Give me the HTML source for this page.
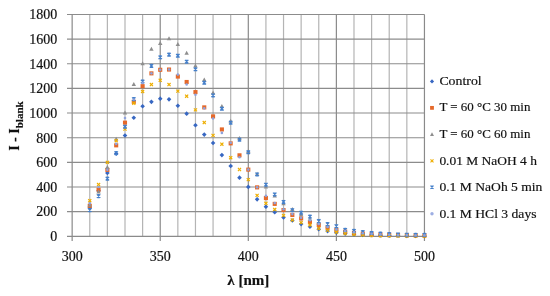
<!DOCTYPE html>
<html><head><meta charset="utf-8"><title>Fluorescence spectra</title>
<style>
html,body{margin:0;padding:0;background:#fff;}
body{width:550px;height:296px;overflow:hidden;}
svg{display:block;will-change:transform;}
text{font-family:"Liberation Serif",serif;fill:#111;stroke:#111;stroke-width:0.18px;}
.ax{font-size:14px;}
.ti{font-size:14px;font-weight:bold;}
.lg{font-size:13.3px;}
</style></head>
<body>
<svg width="550" height="296" viewBox="0 0 550 296">
<rect width="550" height="296" fill="#fff"/>
<line x1="89.77" y1="14.45" x2="89.77" y2="236.30" stroke="#B4B4B4" stroke-width="1.2"/>
<line x1="107.38" y1="14.45" x2="107.38" y2="236.30" stroke="#B4B4B4" stroke-width="1.2"/>
<line x1="125.00" y1="14.45" x2="125.00" y2="236.30" stroke="#B4B4B4" stroke-width="1.2"/>
<line x1="142.61" y1="14.45" x2="142.61" y2="236.30" stroke="#B4B4B4" stroke-width="1.2"/>
<line x1="177.84" y1="14.45" x2="177.84" y2="236.30" stroke="#B4B4B4" stroke-width="1.2"/>
<line x1="195.46" y1="14.45" x2="195.46" y2="236.30" stroke="#B4B4B4" stroke-width="1.2"/>
<line x1="213.07" y1="14.45" x2="213.07" y2="236.30" stroke="#B4B4B4" stroke-width="1.2"/>
<line x1="230.69" y1="14.45" x2="230.69" y2="236.30" stroke="#B4B4B4" stroke-width="1.2"/>
<line x1="265.92" y1="14.45" x2="265.92" y2="236.30" stroke="#B4B4B4" stroke-width="1.2"/>
<line x1="283.53" y1="14.45" x2="283.53" y2="236.30" stroke="#B4B4B4" stroke-width="1.2"/>
<line x1="301.14" y1="14.45" x2="301.14" y2="236.30" stroke="#B4B4B4" stroke-width="1.2"/>
<line x1="318.76" y1="14.45" x2="318.76" y2="236.30" stroke="#B4B4B4" stroke-width="1.2"/>
<line x1="353.99" y1="14.45" x2="353.99" y2="236.30" stroke="#B4B4B4" stroke-width="1.2"/>
<line x1="371.61" y1="14.45" x2="371.61" y2="236.30" stroke="#B4B4B4" stroke-width="1.2"/>
<line x1="389.22" y1="14.45" x2="389.22" y2="236.30" stroke="#B4B4B4" stroke-width="1.2"/>
<line x1="406.84" y1="14.45" x2="406.84" y2="236.30" stroke="#B4B4B4" stroke-width="1.2"/>
<line x1="67" y1="211.65" x2="424.45" y2="211.65" stroke="#8C8C8C" stroke-width="1.1"/>
<line x1="67" y1="187.00" x2="424.45" y2="187.00" stroke="#8C8C8C" stroke-width="1.1"/>
<line x1="67" y1="162.35" x2="424.45" y2="162.35" stroke="#8C8C8C" stroke-width="1.1"/>
<line x1="67" y1="137.70" x2="424.45" y2="137.70" stroke="#8C8C8C" stroke-width="1.1"/>
<line x1="67" y1="113.05" x2="424.45" y2="113.05" stroke="#8C8C8C" stroke-width="1.1"/>
<line x1="67" y1="88.40" x2="424.45" y2="88.40" stroke="#8C8C8C" stroke-width="1.1"/>
<line x1="67" y1="63.75" x2="424.45" y2="63.75" stroke="#8C8C8C" stroke-width="1.1"/>
<line x1="67" y1="39.10" x2="424.45" y2="39.10" stroke="#8C8C8C" stroke-width="1.1"/>
<line x1="67" y1="14.45" x2="424.45" y2="14.45" stroke="#8C8C8C" stroke-width="1.1"/>
<line x1="72.15" y1="14.45" x2="72.15" y2="241" stroke="#8A8A8A" stroke-width="1.2"/>
<line x1="160.23" y1="14.45" x2="160.23" y2="241" stroke="#8A8A8A" stroke-width="1.2"/>
<line x1="248.30" y1="14.45" x2="248.30" y2="241" stroke="#8A8A8A" stroke-width="1.2"/>
<line x1="336.38" y1="14.45" x2="336.38" y2="241" stroke="#8A8A8A" stroke-width="1.2"/>
<line x1="424.45" y1="14.45" x2="424.45" y2="241" stroke="#8A8A8A" stroke-width="1.2"/>
<line x1="67" y1="236.30" x2="424.45" y2="236.30" stroke="#8A8A8A" stroke-width="1.2"/>
<path d="M89.77 205.65L92.07 207.95L89.77 210.25L87.47 207.95Z" fill="#3767C2"/>
<path d="M98.57 188.40L100.87 190.70L98.57 193.00L96.27 190.70Z" fill="#3767C2"/>
<path d="M107.38 170.65L109.68 172.95L107.38 175.25L105.08 172.95Z" fill="#3767C2"/>
<path d="M116.19 151.42L118.49 153.72L116.19 156.02L113.89 153.72Z" fill="#3767C2"/>
<path d="M125.00 133.18L127.30 135.48L125.00 137.78L122.70 135.48Z" fill="#3767C2"/>
<path d="M133.80 115.43L136.10 117.73L133.80 120.03L131.50 117.73Z" fill="#3767C2"/>
<path d="M142.61 103.97L144.91 106.27L142.61 108.57L140.31 106.27Z" fill="#3767C2"/>
<path d="M151.42 99.53L153.72 101.83L151.42 104.13L149.12 101.83Z" fill="#3767C2"/>
<path d="M160.23 96.33L162.53 98.63L160.23 100.93L157.93 98.63Z" fill="#3767C2"/>
<path d="M169.03 97.07L171.33 99.37L169.03 101.67L166.73 99.37Z" fill="#3767C2"/>
<path d="M177.84 103.48L180.14 105.78L177.84 108.08L175.54 105.78Z" fill="#3767C2"/>
<path d="M186.65 111.37L188.95 113.67L186.65 115.97L184.35 113.67Z" fill="#3767C2"/>
<path d="M195.46 122.95L197.76 125.25L195.46 127.55L193.16 125.25Z" fill="#3767C2"/>
<path d="M204.26 132.32L206.56 134.62L204.26 136.92L201.96 134.62Z" fill="#3767C2"/>
<path d="M213.07 140.70L215.37 143.00L213.07 145.30L210.77 143.00Z" fill="#3767C2"/>
<path d="M221.88 152.78L224.18 155.08L221.88 157.38L219.58 155.08Z" fill="#3767C2"/>
<path d="M230.69 163.75L232.99 166.05L230.69 168.35L228.38 166.05Z" fill="#3767C2"/>
<path d="M239.49 175.33L241.79 177.63L239.49 179.93L237.19 177.63Z" fill="#3767C2"/>
<path d="M248.30 184.58L250.60 186.88L248.30 189.18L246.00 186.88Z" fill="#3767C2"/>
<path d="M257.11 197.03L259.41 199.33L257.11 201.63L254.81 199.33Z" fill="#3767C2"/>
<path d="M265.92 204.42L268.22 206.72L265.92 209.02L263.62 206.72Z" fill="#3767C2"/>
<path d="M274.72 209.84L277.02 212.14L274.72 214.44L272.42 212.14Z" fill="#3767C2"/>
<path d="M283.53 215.27L285.83 217.57L283.53 219.87L281.23 217.57Z" fill="#3767C2"/>
<path d="M292.34 218.22L294.64 220.52L292.34 222.82L290.04 220.52Z" fill="#3767C2"/>
<path d="M301.14 221.80L303.44 224.10L301.14 226.40L298.84 224.10Z" fill="#3767C2"/>
<path d="M309.95 224.51L312.25 226.81L309.95 229.11L307.65 226.81Z" fill="#3767C2"/>
<path d="M318.76 226.85L321.06 229.15L318.76 231.45L316.46 229.15Z" fill="#3767C2"/>
<path d="M327.57 228.82L329.87 231.12L327.57 233.42L325.27 231.12Z" fill="#3767C2"/>
<path d="M336.38 230.30L338.68 232.60L336.38 234.90L334.07 232.60Z" fill="#3767C2"/>
<path d="M345.18 231.29L347.48 233.59L345.18 235.89L342.88 233.59Z" fill="#3767C2"/>
<path d="M353.99 232.15L356.29 234.45L353.99 236.75L351.69 234.45Z" fill="#3767C2"/>
<path d="M362.80 232.64L365.10 234.94L362.80 237.24L360.50 234.94Z" fill="#3767C2"/>
<path d="M371.61 233.01L373.91 235.31L371.61 237.61L369.31 235.31Z" fill="#3767C2"/>
<path d="M380.41 233.26L382.71 235.56L380.41 237.86L378.11 235.56Z" fill="#3767C2"/>
<path d="M389.22 233.38L391.52 235.68L389.22 237.98L386.92 235.68Z" fill="#3767C2"/>
<path d="M398.03 233.51L400.33 235.81L398.03 238.11L395.73 235.81Z" fill="#3767C2"/>
<path d="M406.84 233.63L409.14 235.93L406.84 238.23L404.54 235.93Z" fill="#3767C2"/>
<path d="M415.64 233.63L417.94 235.93L415.64 238.23L413.34 235.93Z" fill="#3767C2"/>
<path d="M424.45 233.75L426.75 236.05L424.45 238.35L422.15 236.05Z" fill="#3767C2"/>
<rect x="87.72" y="203.81" width="4.10" height="4.10" fill="#E5692A"/>
<rect x="96.52" y="187.66" width="4.10" height="4.10" fill="#E5692A"/>
<rect x="105.33" y="167.82" width="4.10" height="4.10" fill="#E5692A"/>
<rect x="114.14" y="143.29" width="4.10" height="4.10" fill="#E5692A"/>
<rect x="122.95" y="120.61" width="4.10" height="4.10" fill="#E5692A"/>
<rect x="131.75" y="99.78" width="4.10" height="4.10" fill="#E5692A"/>
<rect x="140.56" y="84.13" width="4.10" height="4.10" fill="#E5692A"/>
<rect x="149.37" y="71.31" width="4.10" height="4.10" fill="#E5692A"/>
<rect x="158.18" y="67.74" width="4.10" height="4.10" fill="#E5692A"/>
<rect x="166.98" y="67.49" width="4.10" height="4.10" fill="#E5692A"/>
<rect x="175.79" y="74.52" width="4.10" height="4.10" fill="#E5692A"/>
<rect x="184.60" y="79.94" width="4.10" height="4.10" fill="#E5692A"/>
<rect x="193.41" y="90.05" width="4.10" height="4.10" fill="#E5692A"/>
<rect x="202.21" y="105.33" width="4.10" height="4.10" fill="#E5692A"/>
<rect x="211.02" y="114.33" width="4.10" height="4.10" fill="#E5692A"/>
<rect x="219.83" y="127.39" width="4.10" height="4.10" fill="#E5692A"/>
<rect x="228.63" y="141.32" width="4.10" height="4.10" fill="#E5692A"/>
<rect x="237.44" y="153.27" width="4.10" height="4.10" fill="#E5692A"/>
<rect x="246.25" y="167.57" width="4.10" height="4.10" fill="#E5692A"/>
<rect x="255.06" y="185.32" width="4.10" height="4.10" fill="#E5692A"/>
<rect x="263.87" y="196.04" width="4.10" height="4.10" fill="#E5692A"/>
<rect x="272.67" y="201.84" width="4.10" height="4.10" fill="#E5692A"/>
<rect x="281.48" y="208.00" width="4.10" height="4.10" fill="#E5692A"/>
<rect x="290.29" y="212.93" width="4.10" height="4.10" fill="#E5692A"/>
<rect x="299.09" y="216.38" width="4.10" height="4.10" fill="#E5692A"/>
<rect x="307.90" y="220.20" width="4.10" height="4.10" fill="#E5692A"/>
<rect x="316.71" y="222.91" width="4.10" height="4.10" fill="#E5692A"/>
<rect x="325.52" y="225.62" width="4.10" height="4.10" fill="#E5692A"/>
<rect x="334.32" y="227.96" width="4.10" height="4.10" fill="#E5692A"/>
<rect x="343.13" y="229.57" width="4.10" height="4.10" fill="#E5692A"/>
<rect x="351.94" y="230.80" width="4.10" height="4.10" fill="#E5692A"/>
<rect x="360.75" y="231.54" width="4.10" height="4.10" fill="#E5692A"/>
<rect x="369.56" y="232.15" width="4.10" height="4.10" fill="#E5692A"/>
<rect x="378.36" y="232.52" width="4.10" height="4.10" fill="#E5692A"/>
<rect x="387.17" y="232.77" width="4.10" height="4.10" fill="#E5692A"/>
<rect x="395.98" y="233.02" width="4.10" height="4.10" fill="#E5692A"/>
<rect x="404.79" y="233.14" width="4.10" height="4.10" fill="#E5692A"/>
<rect x="413.59" y="233.26" width="4.10" height="4.10" fill="#E5692A"/>
<rect x="422.40" y="233.39" width="4.10" height="4.10" fill="#E5692A"/>
<path d="M89.77 202.67L91.97 206.63L87.57 206.63Z" fill="#8E8E8E"/>
<path d="M98.57 189.48L100.77 193.44L96.37 193.44Z" fill="#8E8E8E"/>
<path d="M107.38 165.08L109.58 169.04L105.18 169.04Z" fill="#8E8E8E"/>
<path d="M116.19 136.73L118.39 140.69L113.99 140.69Z" fill="#8E8E8E"/>
<path d="M125.00 110.48L127.20 114.44L122.80 114.44Z" fill="#8E8E8E"/>
<path d="M133.80 82.01L136.00 85.97L131.60 85.97Z" fill="#8E8E8E"/>
<path d="M142.61 61.30L144.81 65.26L140.41 65.26Z" fill="#8E8E8E"/>
<path d="M151.42 46.76L153.62 50.72L149.22 50.72Z" fill="#8E8E8E"/>
<path d="M160.23 40.97L162.43 44.93L158.03 44.93Z" fill="#8E8E8E"/>
<path d="M169.03 36.28L171.23 40.24L166.83 40.24Z" fill="#8E8E8E"/>
<path d="M177.84 42.08L180.04 46.04L175.64 46.04Z" fill="#8E8E8E"/>
<path d="M186.65 50.83L188.85 54.79L184.45 54.79Z" fill="#8E8E8E"/>
<path d="M195.46 63.52L197.66 67.48L193.26 67.48Z" fill="#8E8E8E"/>
<path d="M204.26 77.45L206.46 81.41L202.06 81.41Z" fill="#8E8E8E"/>
<path d="M213.07 90.51L215.27 94.47L210.87 94.47Z" fill="#8E8E8E"/>
<path d="M221.88 104.07L224.08 108.03L219.68 108.03Z" fill="#8E8E8E"/>
<path d="M230.69 118.86L232.88 122.82L228.49 122.82Z" fill="#8E8E8E"/>
<path d="M239.49 136.12L241.69 140.08L237.29 140.08Z" fill="#8E8E8E"/>
<path d="M248.30 149.06L250.50 153.02L246.10 153.02Z" fill="#8E8E8E"/>
<path d="M257.11 171.86L259.31 175.82L254.91 175.82Z" fill="#8E8E8E"/>
<path d="M265.92 184.43L268.12 188.39L263.72 188.39Z" fill="#8E8E8E"/>
<path d="M274.72 193.55L276.92 197.51L272.52 197.51Z" fill="#8E8E8E"/>
<path d="M283.53 201.32L285.73 205.28L281.33 205.28Z" fill="#8E8E8E"/>
<path d="M292.34 207.11L294.54 211.07L290.14 211.07Z" fill="#8E8E8E"/>
<path d="M301.14 212.28L303.34 216.24L298.94 216.24Z" fill="#8E8E8E"/>
<path d="M309.95 216.85L312.15 220.81L307.75 220.81Z" fill="#8E8E8E"/>
<path d="M318.76 220.54L320.96 224.50L316.56 224.50Z" fill="#8E8E8E"/>
<path d="M327.57 223.62L329.77 227.58L325.37 227.58Z" fill="#8E8E8E"/>
<path d="M336.38 226.46L338.57 230.42L334.18 230.42Z" fill="#8E8E8E"/>
<path d="M345.18 228.43L347.38 232.39L342.98 232.39Z" fill="#8E8E8E"/>
<path d="M353.99 229.66L356.19 233.62L351.79 233.62Z" fill="#8E8E8E"/>
<path d="M362.80 230.65L365.00 234.61L360.60 234.61Z" fill="#8E8E8E"/>
<path d="M371.61 231.39L373.81 235.35L369.41 235.35Z" fill="#8E8E8E"/>
<path d="M380.41 231.88L382.61 235.84L378.21 235.84Z" fill="#8E8E8E"/>
<path d="M389.22 232.13L391.42 236.09L387.02 236.09Z" fill="#8E8E8E"/>
<path d="M398.03 232.37L400.23 236.33L395.83 236.33Z" fill="#8E8E8E"/>
<path d="M406.84 232.62L409.04 236.58L404.64 236.58Z" fill="#8E8E8E"/>
<path d="M415.64 232.74L417.84 236.70L413.44 236.70Z" fill="#8E8E8E"/>
<path d="M424.45 232.87L426.65 236.83L422.25 236.83Z" fill="#8E8E8E"/>
<path d="M88.22 199.13L91.32 202.23M91.32 199.13L88.22 202.23" stroke="#EEAE00" stroke-width="1.2" fill="none"/>
<path d="M97.02 182.99L100.12 186.09M100.12 182.99L97.02 186.09" stroke="#EEAE00" stroke-width="1.2" fill="none"/>
<path d="M105.83 160.80L108.93 163.90M108.93 160.80L105.83 163.90" stroke="#EEAE00" stroke-width="1.2" fill="none"/>
<path d="M114.64 139.11L117.74 142.21M117.74 139.11L114.64 142.21" stroke="#EEAE00" stroke-width="1.2" fill="none"/>
<path d="M123.45 127.52L126.55 130.62M126.55 127.52L123.45 130.62" stroke="#EEAE00" stroke-width="1.2" fill="none"/>
<path d="M132.25 101.64L135.35 104.74M135.35 101.64L132.25 104.74" stroke="#EEAE00" stroke-width="1.2" fill="none"/>
<path d="M141.06 89.93L144.16 93.03M144.16 89.93L141.06 93.03" stroke="#EEAE00" stroke-width="1.2" fill="none"/>
<path d="M149.87 83.03L152.97 86.13M152.97 83.03L149.87 86.13" stroke="#EEAE00" stroke-width="1.2" fill="none"/>
<path d="M158.68 78.72L161.78 81.82M161.78 78.72L158.68 81.82" stroke="#EEAE00" stroke-width="1.2" fill="none"/>
<path d="M167.48 83.03L170.58 86.13M170.58 83.03L167.48 86.13" stroke="#EEAE00" stroke-width="1.2" fill="none"/>
<path d="M176.29 89.56L179.39 92.66M179.39 89.56L176.29 92.66" stroke="#EEAE00" stroke-width="1.2" fill="none"/>
<path d="M185.10 94.61L188.20 97.71M188.20 94.61L185.10 97.71" stroke="#EEAE00" stroke-width="1.2" fill="none"/>
<path d="M193.91 108.30L197.01 111.40M197.01 108.30L193.91 111.40" stroke="#EEAE00" stroke-width="1.2" fill="none"/>
<path d="M202.71 120.99L205.81 124.09M205.81 120.99L202.71 124.09" stroke="#EEAE00" stroke-width="1.2" fill="none"/>
<path d="M211.52 133.81L214.62 136.91M214.62 133.81L211.52 136.91" stroke="#EEAE00" stroke-width="1.2" fill="none"/>
<path d="M220.33 142.68L223.43 145.78M223.43 142.68L220.33 145.78" stroke="#EEAE00" stroke-width="1.2" fill="none"/>
<path d="M229.13 156.12L232.24 159.22M232.24 156.12L229.13 159.22" stroke="#EEAE00" stroke-width="1.2" fill="none"/>
<path d="M237.94 167.95L241.04 171.05M241.04 167.95L237.94 171.05" stroke="#EEAE00" stroke-width="1.2" fill="none"/>
<path d="M246.75 178.06L249.85 181.16M249.85 178.06L246.75 181.16" stroke="#EEAE00" stroke-width="1.2" fill="none"/>
<path d="M255.56 193.83L258.66 196.93M258.66 193.83L255.56 196.93" stroke="#EEAE00" stroke-width="1.2" fill="none"/>
<path d="M264.37 201.72L267.47 204.82M267.47 201.72L264.37 204.82" stroke="#EEAE00" stroke-width="1.2" fill="none"/>
<path d="M273.17 207.88L276.27 210.98M276.27 207.88L273.17 210.98" stroke="#EEAE00" stroke-width="1.2" fill="none"/>
<path d="M281.98 213.80L285.08 216.90M285.08 213.80L281.98 216.90" stroke="#EEAE00" stroke-width="1.2" fill="none"/>
<path d="M290.79 218.36L293.89 221.46M293.89 218.36L290.79 221.46" stroke="#EEAE00" stroke-width="1.2" fill="none"/>
<path d="M299.59 221.07L302.69 224.17M302.69 221.07L299.59 224.17" stroke="#EEAE00" stroke-width="1.2" fill="none"/>
<path d="M308.40 223.41L311.50 226.51M311.50 223.41L308.40 226.51" stroke="#EEAE00" stroke-width="1.2" fill="none"/>
<path d="M317.21 226.86L320.31 229.96M320.31 226.86L317.21 229.96" stroke="#EEAE00" stroke-width="1.2" fill="none"/>
<path d="M326.02 228.83L329.12 231.93M329.12 228.83L326.02 231.93" stroke="#EEAE00" stroke-width="1.2" fill="none"/>
<path d="M334.82 230.68L337.93 233.78M337.93 230.68L334.82 233.78" stroke="#EEAE00" stroke-width="1.2" fill="none"/>
<path d="M343.63 231.92L346.73 235.02M346.73 231.92L343.63 235.02" stroke="#EEAE00" stroke-width="1.2" fill="none"/>
<path d="M352.44 232.90L355.54 236.00M355.54 232.90L352.44 236.00" stroke="#EEAE00" stroke-width="1.2" fill="none"/>
<path d="M361.25 233.52L364.35 236.62M364.35 233.52L361.25 236.62" stroke="#EEAE00" stroke-width="1.2" fill="none"/>
<path d="M370.06 233.89L373.16 236.99M373.16 233.89L370.06 236.99" stroke="#EEAE00" stroke-width="1.2" fill="none"/>
<path d="M378.86 234.13L381.96 237.23M381.96 234.13L378.86 237.23" stroke="#EEAE00" stroke-width="1.2" fill="none"/>
<path d="M387.67 234.26L390.77 237.36M390.77 234.26L387.67 237.36" stroke="#EEAE00" stroke-width="1.2" fill="none"/>
<path d="M396.48 234.38L399.58 237.48M399.58 234.38L396.48 237.48" stroke="#EEAE00" stroke-width="1.2" fill="none"/>
<path d="M405.29 234.50L408.39 237.60M408.39 234.50L405.29 237.60" stroke="#EEAE00" stroke-width="1.2" fill="none"/>
<path d="M414.09 234.50L417.19 237.60M417.19 234.50L414.09 237.60" stroke="#EEAE00" stroke-width="1.2" fill="none"/>
<path d="M422.90 234.63L426.00 237.73M426.00 234.63L422.90 237.73" stroke="#EEAE00" stroke-width="1.2" fill="none"/>
<path d="M88.02 208.42L91.52 211.92M91.52 208.42L88.02 211.92M88.89 208.72H90.64M88.89 211.62H90.64" stroke="#4680CA" stroke-width="1.15" fill="none"/>
<path d="M96.82 194.37L100.32 197.87M100.32 194.37L96.82 197.87M97.70 194.67H99.45M97.70 197.57H99.45" stroke="#4680CA" stroke-width="1.15" fill="none"/>
<path d="M105.63 176.87L109.13 180.37M109.13 176.87L105.63 180.37M106.51 177.17H108.26M106.51 180.07H108.26" stroke="#4680CA" stroke-width="1.15" fill="none"/>
<path d="M114.44 151.36L117.94 154.86M117.94 151.36L114.44 154.86M115.31 151.66H117.06M115.31 154.56H117.06" stroke="#4680CA" stroke-width="1.15" fill="none"/>
<path d="M123.25 124.98L126.75 128.48M126.75 124.98L123.25 128.48M124.12 125.28H125.87M124.12 128.18H125.87" stroke="#4680CA" stroke-width="1.15" fill="none"/>
<path d="M132.05 97.37L135.55 100.87M135.55 97.37L132.05 100.87M132.93 97.67H134.68M132.93 100.57H134.68" stroke="#4680CA" stroke-width="1.15" fill="none"/>
<path d="M140.86 79.75L144.36 83.25M144.36 79.75L140.86 83.25M141.74 80.05H143.49M141.74 82.95H143.49" stroke="#4680CA" stroke-width="1.15" fill="none"/>
<path d="M149.67 64.10L153.17 67.60M153.17 64.10L149.67 67.60M150.54 64.40H152.29M150.54 67.30H152.29" stroke="#4680CA" stroke-width="1.15" fill="none"/>
<path d="M158.48 55.59L161.98 59.09M161.98 55.59L158.48 59.09M159.35 55.89H161.10M159.35 58.79H161.10" stroke="#4680CA" stroke-width="1.15" fill="none"/>
<path d="M167.28 52.88L170.78 56.38M170.78 52.88L167.28 56.38M168.16 53.18H169.91M168.16 56.08H169.91" stroke="#4680CA" stroke-width="1.15" fill="none"/>
<path d="M176.09 53.99L179.59 57.49M179.59 53.99L176.09 57.49M176.97 54.29H178.72M176.97 57.19H178.72" stroke="#4680CA" stroke-width="1.15" fill="none"/>
<path d="M184.90 59.90L188.40 63.40M188.40 59.90L184.90 63.40M185.77 60.20H187.52M185.77 63.10H187.52" stroke="#4680CA" stroke-width="1.15" fill="none"/>
<path d="M193.71 67.55L197.21 71.05M197.21 67.55L193.71 71.05M194.58 67.85H196.33M194.58 70.75H196.33" stroke="#4680CA" stroke-width="1.15" fill="none"/>
<path d="M202.51 80.98L206.01 84.48M206.01 80.98L202.51 84.48M203.39 81.28H205.14M203.39 84.18H205.14" stroke="#4680CA" stroke-width="1.15" fill="none"/>
<path d="M211.32 93.68L214.82 97.18M214.82 93.68L211.32 97.18M212.20 93.98H213.95M212.20 96.88H213.95" stroke="#4680CA" stroke-width="1.15" fill="none"/>
<path d="M220.13 106.99L223.63 110.49M223.63 106.99L220.13 110.49M221.00 107.29H222.75M221.00 110.19H222.75" stroke="#4680CA" stroke-width="1.15" fill="none"/>
<path d="M228.94 120.91L232.44 124.41M232.44 120.91L228.94 124.41M229.81 121.21H231.56M229.81 124.11H231.56" stroke="#4680CA" stroke-width="1.15" fill="none"/>
<path d="M237.74 137.92L241.24 141.42M241.24 137.92L237.74 141.42M238.62 138.22H240.37M238.62 141.12H240.37" stroke="#4680CA" stroke-width="1.15" fill="none"/>
<path d="M246.55 150.49L250.05 153.99M250.05 150.49L246.55 153.99M247.43 150.79H249.18M247.43 153.69H249.18" stroke="#4680CA" stroke-width="1.15" fill="none"/>
<path d="M255.36 172.68L258.86 176.18M258.86 172.68L255.36 176.18M256.23 172.98H257.98M256.23 175.88H257.98" stroke="#4680CA" stroke-width="1.15" fill="none"/>
<path d="M264.17 182.91L267.67 186.41M267.67 182.91L264.17 186.41M265.04 183.21H266.79M265.04 186.11H266.79" stroke="#4680CA" stroke-width="1.15" fill="none"/>
<path d="M272.97 192.65L276.47 196.15M276.47 192.65L272.97 196.15M273.85 192.95H275.60M273.85 195.84H275.60" stroke="#4680CA" stroke-width="1.15" fill="none"/>
<path d="M281.78 200.16L285.28 203.66M285.28 200.16L281.78 203.66M282.65 200.46H284.40M282.65 203.36H284.40" stroke="#4680CA" stroke-width="1.15" fill="none"/>
<path d="M290.59 208.42L294.09 211.92M294.09 208.42L290.59 211.92M291.46 208.72H293.21M291.46 211.62H293.21" stroke="#4680CA" stroke-width="1.15" fill="none"/>
<path d="M299.39 211.01L302.89 214.51M302.89 211.01L299.39 214.51M300.27 211.31H302.02M300.27 214.21H302.02" stroke="#4680CA" stroke-width="1.15" fill="none"/>
<path d="M308.20 214.83L311.70 218.33M311.70 214.83L308.20 218.33M309.08 215.13H310.83M309.08 218.03H310.83" stroke="#4680CA" stroke-width="1.15" fill="none"/>
<path d="M317.01 219.27L320.51 222.77M320.51 219.27L317.01 222.77M317.88 219.57H319.63M317.88 222.47H319.63" stroke="#4680CA" stroke-width="1.15" fill="none"/>
<path d="M325.82 222.35L329.32 225.85M329.32 222.35L325.82 225.85M326.69 222.65H328.44M326.69 225.55H328.44" stroke="#4680CA" stroke-width="1.15" fill="none"/>
<path d="M334.62 224.44L338.12 227.94M338.12 224.44L334.62 227.94M335.50 224.74H337.25M335.50 227.64H337.25" stroke="#4680CA" stroke-width="1.15" fill="none"/>
<path d="M343.43 228.14L346.93 231.64M346.93 228.14L343.43 231.64M344.31 228.44H346.06M344.31 231.34H346.06" stroke="#4680CA" stroke-width="1.15" fill="none"/>
<path d="M352.24 229.13L355.74 232.63M355.74 229.13L352.24 232.63M353.12 229.43H354.87M353.12 232.33H354.87" stroke="#4680CA" stroke-width="1.15" fill="none"/>
<path d="M361.05 230.36L364.55 233.86M364.55 230.36L361.05 233.86M361.92 230.66H363.67M361.92 233.56H363.67" stroke="#4680CA" stroke-width="1.15" fill="none"/>
<path d="M369.86 231.22L373.36 234.72M373.36 231.22L369.86 234.72M370.73 231.52H372.48M370.73 234.42H372.48" stroke="#4680CA" stroke-width="1.15" fill="none"/>
<path d="M378.66 231.84L382.16 235.34M382.16 231.84L378.66 235.34M379.54 232.14H381.29M379.54 235.04H381.29" stroke="#4680CA" stroke-width="1.15" fill="none"/>
<path d="M387.47 232.33L390.97 235.83M390.97 232.33L387.47 235.83M388.35 232.63H390.10M388.35 235.53H390.10" stroke="#4680CA" stroke-width="1.15" fill="none"/>
<path d="M396.28 232.70L399.78 236.20M399.78 232.70L396.28 236.20M397.15 233.00H398.90M397.15 235.90H398.90" stroke="#4680CA" stroke-width="1.15" fill="none"/>
<path d="M405.09 232.95L408.59 236.45M408.59 232.95L405.09 236.45M405.96 233.25H407.71M405.96 236.15H407.71" stroke="#4680CA" stroke-width="1.15" fill="none"/>
<path d="M413.89 233.07L417.39 236.57M417.39 233.07L413.89 236.57M414.77 233.37H416.52M414.77 236.27H416.52" stroke="#4680CA" stroke-width="1.15" fill="none"/>
<path d="M422.70 233.07L426.20 236.57M426.20 233.07L422.70 236.57M423.58 233.37H425.33M423.58 236.27H425.33" stroke="#4680CA" stroke-width="1.15" fill="none"/>
<circle cx="89.77" cy="203.27" r="1.30" fill="#8FA2DC"/>
<circle cx="98.57" cy="187.00" r="1.30" fill="#8FA2DC"/>
<circle cx="107.38" cy="169.87" r="1.30" fill="#8FA2DC"/>
<circle cx="116.19" cy="143.86" r="1.30" fill="#8FA2DC"/>
<circle cx="125.00" cy="117.98" r="1.30" fill="#8FA2DC"/>
<circle cx="133.80" cy="99.49" r="1.30" fill="#8FA2DC"/>
<circle cx="142.61" cy="82.98" r="1.30" fill="#8FA2DC"/>
<circle cx="151.42" cy="73.36" r="1.30" fill="#8FA2DC"/>
<circle cx="160.23" cy="69.79" r="1.30" fill="#8FA2DC"/>
<circle cx="169.03" cy="69.54" r="1.30" fill="#8FA2DC"/>
<circle cx="177.84" cy="74.60" r="1.30" fill="#8FA2DC"/>
<circle cx="186.65" cy="84.46" r="1.30" fill="#8FA2DC"/>
<circle cx="195.46" cy="94.81" r="1.30" fill="#8FA2DC"/>
<circle cx="204.26" cy="108.37" r="1.30" fill="#8FA2DC"/>
<circle cx="213.07" cy="118.47" r="1.30" fill="#8FA2DC"/>
<circle cx="221.88" cy="132.89" r="1.30" fill="#8FA2DC"/>
<circle cx="230.69" cy="142.75" r="1.30" fill="#8FA2DC"/>
<circle cx="239.49" cy="157.30" r="1.30" fill="#8FA2DC"/>
<circle cx="248.30" cy="169.62" r="1.30" fill="#8FA2DC"/>
<circle cx="257.11" cy="187.37" r="1.30" fill="#8FA2DC"/>
<circle cx="265.92" cy="195.87" r="1.30" fill="#8FA2DC"/>
<circle cx="274.72" cy="203.02" r="1.30" fill="#8FA2DC"/>
<circle cx="283.53" cy="209.19" r="1.30" fill="#8FA2DC"/>
<circle cx="292.34" cy="214.12" r="1.30" fill="#8FA2DC"/>
<circle cx="301.14" cy="217.81" r="1.30" fill="#8FA2DC"/>
<circle cx="309.95" cy="220.28" r="1.30" fill="#8FA2DC"/>
<circle cx="318.76" cy="223.98" r="1.30" fill="#8FA2DC"/>
<circle cx="327.57" cy="227.06" r="1.30" fill="#8FA2DC"/>
<circle cx="336.38" cy="229.52" r="1.30" fill="#8FA2DC"/>
<circle cx="345.18" cy="231.12" r="1.30" fill="#8FA2DC"/>
<circle cx="353.99" cy="232.36" r="1.30" fill="#8FA2DC"/>
<circle cx="362.80" cy="233.22" r="1.30" fill="#8FA2DC"/>
<circle cx="371.61" cy="233.84" r="1.30" fill="#8FA2DC"/>
<circle cx="380.41" cy="234.33" r="1.30" fill="#8FA2DC"/>
<circle cx="389.22" cy="234.70" r="1.30" fill="#8FA2DC"/>
<circle cx="398.03" cy="234.94" r="1.30" fill="#8FA2DC"/>
<circle cx="406.84" cy="235.07" r="1.30" fill="#8FA2DC"/>
<circle cx="415.64" cy="235.19" r="1.30" fill="#8FA2DC"/>
<circle cx="424.45" cy="235.31" r="1.30" fill="#8FA2DC"/>
<text x="57.2" y="241.10" text-anchor="end" class="ax">0</text>
<text x="57.2" y="216.45" text-anchor="end" class="ax">200</text>
<text x="57.2" y="191.80" text-anchor="end" class="ax">400</text>
<text x="57.2" y="167.15" text-anchor="end" class="ax">600</text>
<text x="57.2" y="142.50" text-anchor="end" class="ax">800</text>
<text x="57.2" y="117.85" text-anchor="end" class="ax">1000</text>
<text x="57.2" y="93.20" text-anchor="end" class="ax">1200</text>
<text x="57.2" y="68.55" text-anchor="end" class="ax">1400</text>
<text x="57.2" y="43.90" text-anchor="end" class="ax">1600</text>
<text x="57.2" y="19.25" text-anchor="end" class="ax">1800</text>
<text x="72.15" y="261.3" text-anchor="middle" class="ax">300</text>
<text x="160.23" y="261.3" text-anchor="middle" class="ax">350</text>
<text x="248.30" y="261.3" text-anchor="middle" class="ax">400</text>
<text x="336.38" y="261.3" text-anchor="middle" class="ax">450</text>
<text x="424.45" y="261.3" text-anchor="middle" class="ax">500</text>
<text x="227.3" y="285.1" class="ti" style="font-size:14.4px" textLength="42" lengthAdjust="spacingAndGlyphs">&#955; [nm]</text>
<text transform="translate(18.5 126.1) rotate(-90)" text-anchor="middle" class="ti">I - I<tspan dy="4.6" font-size="11">blank</tspan></text>
<path d="M432.00 79.30L434.10 81.40L432.00 83.50L429.90 81.40Z" fill="#3767C2"/>
<text x="439.4" y="84.90" class="lg" textLength="42.3" lengthAdjust="spacingAndGlyphs">Control</text>
<rect x="430.10" y="105.97" width="3.80" height="3.80" fill="#E5692A"/>
<text x="439.4" y="111.45" class="lg" textLength="91.0" lengthAdjust="spacingAndGlyphs">T = 60 &#176;C 30 min</text>
<path d="M432.00 132.34L434.00 135.94L430.00 135.94Z" fill="#8E8E8E"/>
<text x="439.4" y="138.00" class="lg" textLength="91.0" lengthAdjust="spacingAndGlyphs">T = 60 &#176;C 60 min</text>
<path d="M430.50 159.31L433.50 162.31M433.50 159.31L430.50 162.31" stroke="#EEAE00" stroke-width="1.1" fill="none"/>
<text x="439.4" y="164.55" class="lg" textLength="97.5" lengthAdjust="spacingAndGlyphs">0.01 M NaOH 4 h</text>
<path d="M430.45 185.73L433.55 188.83M433.55 185.73L430.45 188.83M431.23 186.03H432.77M431.23 188.53H432.77" stroke="#4680CA" stroke-width="1.05" fill="none"/>
<text x="439.4" y="191.10" class="lg" textLength="103.0" lengthAdjust="spacingAndGlyphs">0.1 M NaOh 5 min</text>
<circle cx="432.00" cy="213.75" r="1.70" fill="#9DAEE3"/>
<text x="439.4" y="217.65" class="lg" textLength="97.1" lengthAdjust="spacingAndGlyphs">0.1 M HCl 3 days</text>
</svg>
</body></html>
